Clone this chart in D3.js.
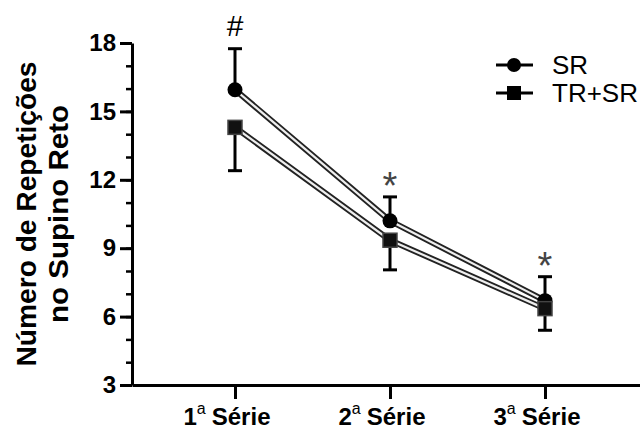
<!DOCTYPE html>
<html>
<head>
<meta charset="utf-8">
<script src="https://cdn.jsdelivr.net/npm/d3@7"></script>
<style>
  body { margin: 0; background: #fff; }
  svg { display: block; font-family: "Liberation Sans", Arial, sans-serif; }
</style>
</head>
<body>
<svg id="canvas" width="640" height="430"></svg>
<script>
// data
var series = ["1", "2", "3"];
var srMean = [15.95, 10.2, 6.7];
var srSd = [1.8, 1.05, 1.05];
var trMean = [14.3, 9.35, 6.35];
var trSd = [1.9, 1.3, 0.95];
var marks = ["#", "*", "*"];
var majorTicks = [3, 6, 9, 12, 15, 18];
var minorTicks = d3.range(3, 19, 1);

function draw() {
    "use strict";

    var svg = d3.select(document.getElementById('canvas'));

    var x = d3.scalePoint().domain(series).range([132, 648]).padding(0.6645);
    var y = d3.scaleLinear().domain([3, 18]).range([385, 43]);

    // y axis: minor ticks, then labelled major ticks
    svg.append('g')
        .attr('transform', 'translate(132,0)')
        .call(d3.axisLeft(y).tickValues(minorTicks).tickSize(6).tickFormat(''))
        .call(function(g) { g.select('.domain').remove(); })
        .selectAll('line').attr('stroke-width', 2.5);

    var ya = svg.append('g')
        .attr('transform', 'translate(132,0)')
        .call(d3.axisLeft(y).tickValues(majorTicks).tickSize(12).tickSizeOuter(0).tickPadding(4));
    ya.select('.domain').attr('stroke-width', 3);
    ya.selectAll('line').attr('stroke-width', 3);
    ya.selectAll('text')
        .attr('font-size', 24).attr('font-weight', 'bold')
        .attr('font-family', '"Liberation Sans", Arial, sans-serif')
        .attr('fill', '#000');

    // x axis
    var xa = svg.append('g')
        .attr('transform', 'translate(0,385)')
        .call(d3.axisBottom(x).tickSize(14).tickSizeOuter(0).tickFormat(''));
    xa.select('.domain').attr('stroke-width', 3);
    xa.selectAll('line').attr('stroke-width', 3);

    var lbl = svg.selectAll('.xlbl')
        .data(series)
        .enter().append('text')
        .attr('class', 'xlbl')
        .attr('x', function(d) { return x(d) - 8; })
        .attr('y', 425)
        .attr('text-anchor', 'middle')
        .attr('font-size', 24)
        .attr('font-weight', 'bold');
    lbl.append('tspan').text(function(d) { return d; });
    lbl.append('tspan').attr('dy', -11).attr('font-size', 16).attr('font-weight', 'normal').text('a');
    lbl.append('tspan').attr('dy', 11).attr('dx', 6).text('Série');

    // y title
    var title = svg.append('text')
        .attr('transform', 'translate(0,214) rotate(-90)')
        .attr('text-anchor', 'middle')
        .attr('font-weight', 'bold')
        .attr('font-size', 27);
    title.append('tspan').attr('x', 0).attr('y', 36)
        .attr('textLength', 305).attr('lengthAdjust', 'spacingAndGlyphs')
        .text('Número de Repetições');
    title.append('tspan').attr('x', 0).attr('y', 68)
        .attr('textLength', 218).attr('lengthAdjust', 'spacingAndGlyphs')
        .text('no Supino Reto');

    var line = d3.line()
        .x(function(d, i) { return x(series[i]); })
        .y(function(d) { return y(d); });

    // error bars (SR up, TR+SR down)
    function errBars(mean, sd, dir) {
        var g = svg.append('g').attr('stroke', '#000').attr('stroke-width', 3);
        g.selectAll('.v').data(mean).enter().append('line')
            .attr('x1', function(d, i) { return x(series[i]); })
            .attr('x2', function(d, i) { return x(series[i]); })
            .attr('y1', function(d) { return y(d); })
            .attr('y2', function(d, i) { return y(d + dir * sd[i]); });
        g.selectAll('.c').data(mean).enter().append('line')
            .attr('x1', function(d, i) { return x(series[i]) - 7; })
            .attr('x2', function(d, i) { return x(series[i]) + 7; })
            .attr('y1', function(d, i) { return y(d + dir * sd[i]); })
            .attr('y2', function(d, i) { return y(d + dir * sd[i]); });
    }
    errBars(srMean, srSd, 1);
    errBars(trMean, trSd, -1);

    // double-stroked lines
    [srMean, trMean].forEach(function(vals) {
        svg.append('path').datum(vals).attr('d', line)
            .attr('fill', 'none').attr('stroke', '#222').attr('stroke-width', 6);
        svg.append('path').datum(vals).attr('d', line)
            .attr('fill', 'none').attr('stroke', '#eee').attr('stroke-width', 2.2);
    });

    // markers
    svg.selectAll('.sr').data(srMean).enter().append('circle')
        .attr('cx', function(d, i) { return x(series[i]); })
        .attr('cy', function(d) { return y(d); })
        .attr('r', 7.5).attr('fill', '#000');
    svg.selectAll('.tr').data(trMean).enter().append('rect')
        .attr('x', function(d, i) { return x(series[i]) - 7; })
        .attr('y', function(d) { return y(d) - 7; })
        .attr('width', 14).attr('height', 14)
        .attr('fill', '#111').attr('stroke', '#444').attr('stroke-width', 1.5);

    // significance marks
    svg.selectAll('.sig').data(marks).enter().append('text')
        .attr('x', function(d, i) { return x(series[i]); })
        .attr('y', function(d, i) { return i === 0 ? 36 : y(srMean[i] + srSd[i]) + 10; })
        .attr('dy', function(d, i) { return i === 0 ? 0 : -8; })
        .attr('text-anchor', 'middle')
        .attr('font-size', function(d, i) { return i === 0 ? 30 : 38; })
        .attr('fill', function(d, i) { return i === 0 ? '#000' : '#444'; })
        .text(function(d) { return d; });

    // legend
    var leg = svg.append('g');
    leg.append('line').attr('x1', 496).attr('x2', 533).attr('y1', 65).attr('y2', 65)
        .attr('stroke', '#000').attr('stroke-width', 3);
    leg.append('circle').attr('cx', 514).attr('cy', 65).attr('r', 7).attr('fill', '#000');
    leg.append('text').attr('x', 552).attr('y', 74).attr('font-size', 26).text('SR');
    leg.append('line').attr('x1', 496).attr('x2', 533).attr('y1', 93).attr('y2', 93)
        .attr('stroke', '#000').attr('stroke-width', 3);
    leg.append('rect').attr('x', 507).attr('y', 86).attr('width', 14).attr('height', 14).attr('fill', '#000');
    leg.append('text').attr('x', 552).attr('y', 102).attr('font-size', 26)
        .attr('textLength', 86).attr('lengthAdjust', 'spacingAndGlyphs').text('TR+SR');
}

draw();
</script>
</body>
</html>
